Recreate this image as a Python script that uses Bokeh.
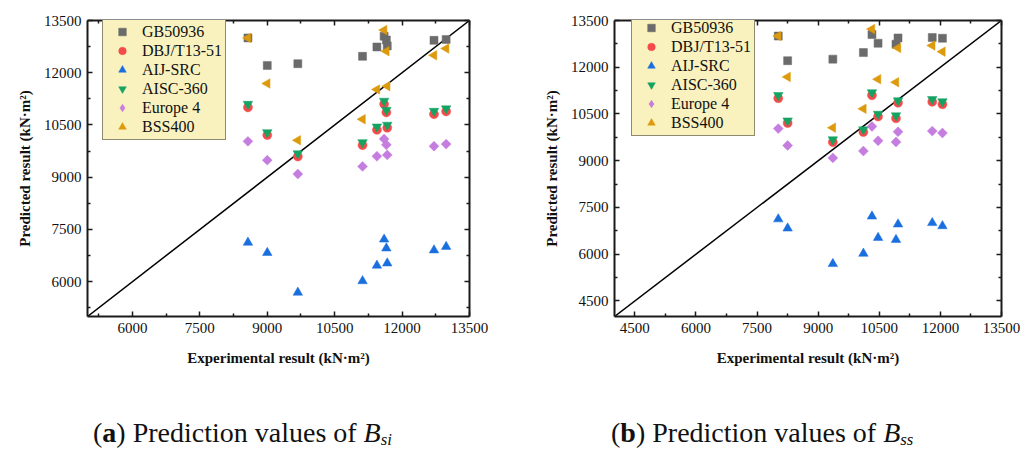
import numpy as np
from bokeh.plotting import figure
from bokeh.models import (LinearAxis, FixedTicker, Legend, LegendItem, Div,
                          ColumnDataSource, CustomJSTickFormatter)
from bokeh.layouts import row, column
from bokeh.embed import file_html
from bokeh.resources import INLINE

# ---------------- data ----------------
series_names = ["GB50936", "DBJ/T13-51", "AIJ-SRC", "AISC-360", "Europe 4", "BSS400"]

# experimental results (kN·m²) of the 10 specimens
exp_si = [8570, 9000, 9680, 11120, 11440, 11600, 11650, 11670, 12710, 12980]
exp_ss = [8020, 8250, 9360, 10110, 10910, 10320, 10960, 10470, 12050, 11800]

# predicted results (kN·m²) for each specimen
pred_gb = [13000, 12210, 12260, 12470, 12740, 13050, 12940, 12770, 12930, 12955]
pred_dbj = [11005, 10210, 9595, 9920, 10360, 11100, 10860, 10420, 10810, 10890]
pred_aij = [7125, 6830, 5690, 6020, 6465, 7215, 6960, 6530, 6905, 7005]
pred_aisc = [11100, 10285, 9680, 10000, 10450, 11190, 10930, 10500, 10900, 10970]
pred_eu = [10030, 9490, 9090, 9310, 9600, 10100, 9930, 9640, 9890, 9950]
pred_bss = [13000, 11690, 10060, 10665, 11520, 13225, 12620, 11615, 12500, 12695]

si_ticks = [6000, 7500, 9000, 10500, 12000, 13500]
ss_ticks = [4500, 6000, 7500, 9000, 10500, 12000, 13500]
minor_ticks = [5250, 6750, 8250, 9750, 11250, 12750]

# ---------------- style ----------------
colors = ["#6b6b6b", "#f44a4a", "#1a6fdf", "#15a362", "#c57ddf", "#dc9a0c"]
markers = ["square", "circle", "triangle", "inverted_triangle", "square", "triangle"]
legend_markers = ["square", "circle", "triangle", "inverted_triangle", "diamond", "triangle"]
angles = [0, 0, 0, 0, np.pi / 4, np.pi / 2]
sizes = [8, 9, 9.5, 9.5, 7, 9.5]
FONT = "Liberation Serif"
AX_COL = "#1a1a1a"


def style_axis(ax, ticks, labels=True):
    ax.ticker = FixedTicker(ticks=ticks, minor_ticks=minor_ticks)
    ax.axis_line_color = AX_COL
    ax.axis_line_width = 2
    ax.major_tick_in = 5
    ax.major_tick_out = 0
    ax.minor_tick_in = 3
    ax.minor_tick_out = 0
    ax.major_tick_line_color = AX_COL
    ax.minor_tick_line_color = AX_COL
    ax.major_tick_line_width = 1.5
    ax.minor_tick_line_width = 1.5
    if labels:
        ax.major_label_text_font = FONT
        ax.major_label_text_font_size = "15px"
        ax.major_label_text_color = "#111111"
        ax.major_label_standoff = 6
        ax.axis_label_text_font = FONT
        ax.axis_label_text_font_style = "bold"
        ax.axis_label_text_font_size = "15px"
        ax.axis_label_text_color = "#111111"
    else:
        ax.formatter = CustomJSTickFormatter(code="return ''")
        ax.major_label_standoff = 0


def make_plot(xs, lo, ticks, width, height, bl, br, bt, legend_x, frame_h):
    p = figure(width=width, height=height, x_range=(lo, 13500), y_range=(lo, 13500),
               output_backend="svg", toolbar_location=None,
               min_border_left=bl, min_border_right=br, min_border_top=bt,
               min_border_bottom=height - bt - frame_h)
    p.grid.visible = False
    p.outline_line_color = None
    p.background_fill_color = "white"
    p.border_fill_color = "white"

    p.line([lo, 13500], [lo, 13500], line_color="black", line_width=1.5)

    preds = [pred_gb, pred_dbj, pred_aij, pred_aisc, pred_eu, pred_bss]
    items = []
    for name, ys, c, m, lm, a, s in zip(series_names, preds, colors, markers,
                                        legend_markers, angles, sizes):
        src = ColumnDataSource(dict(x=xs, y=ys))
        r = p.scatter("x", "y", source=src, marker=m, size=s, angle=a,
                      fill_color=c, line_color=c, line_width=0.5)
        if lm != m:
            # hidden twin used only for the legend swatch
            # (legend swatches ignore marker rotation)
            r_leg = p.scatter("x", "y", source=src, marker=lm, size=s,
                              fill_color=c, line_color=c, line_width=0.5)
            r_leg.visible = False
            items.append(LegendItem(label=name, renderers=[r_leg]))
        else:
            items.append(LegendItem(label=name, renderers=[r]))

    style_axis(p.xaxis[0], ticks)
    style_axis(p.yaxis[0], ticks)
    p.xaxis[0].axis_label = "Experimental result (kN·m²)"
    p.yaxis[0].axis_label = "Predicted result (kN·m²)"
    p.xaxis[0].axis_label_standoff = 14
    p.yaxis[0].axis_label_standoff = 8

    top = LinearAxis()
    right = LinearAxis()
    style_axis(top, ticks, labels=False)
    style_axis(right, ticks, labels=False)
    p.add_layout(top, "above")
    p.add_layout(right, "right")

    row_h = 19
    pad = 3
    leg_h = 6 * row_h + 2 * pad
    legend = Legend(items=items, location=(legend_x, frame_h - leg_h))
    legend.click_policy = "none"
    legend.background_fill_color = "#f9f2bf"
    legend.background_fill_alpha = 1
    legend.border_line_color = "#222222"
    legend.border_line_width = 1
    legend.label_text_font = FONT
    legend.label_text_font_size = "16px"
    legend.label_text_color = "#111111"
    legend.glyph_width = 32
    legend.glyph_height = row_h
    legend.label_height = row_h
    legend.label_standoff = 4
    legend.spacing = 0
    legend.padding = pad
    legend.margin = 0
    p.add_layout(legend, "center")
    return p


p1 = make_plot(exp_si, 5000, si_ticks, 520, 400, 87, 51, 20, 15, 296)
p2 = make_plot(exp_ss, 4000, ss_ticks, 515, 400, 94, 34, 18, 17, 300)

cap_style = ("font-family:'Liberation Serif',serif;font-size:28px;line-height:30px;"
             "color:#111;white-space:nowrap;")
sub = '<span style="font-size:60%;position:relative;top:3px;">{}</span>'
div_a = Div(text=f'<div style="{cap_style}padding-left:93px;padding-top:18px;">'
                 '(<b>a</b>) Prediction values of <i>B' + sub.format("si") + '</i></div>',
            width=520, height=55, margin=0)
div_b = Div(text=f'<div style="{cap_style}padding-left:91px;padding-top:18px;">'
                 '(<b>b</b>) Prediction values of <i>B' + sub.format("ss") + '</i></div>',
            width=515, height=55, margin=0)

layout = column(row(p1, p2), row(div_a, div_b))

open("out.html", "w").write(file_html(layout, INLINE))
